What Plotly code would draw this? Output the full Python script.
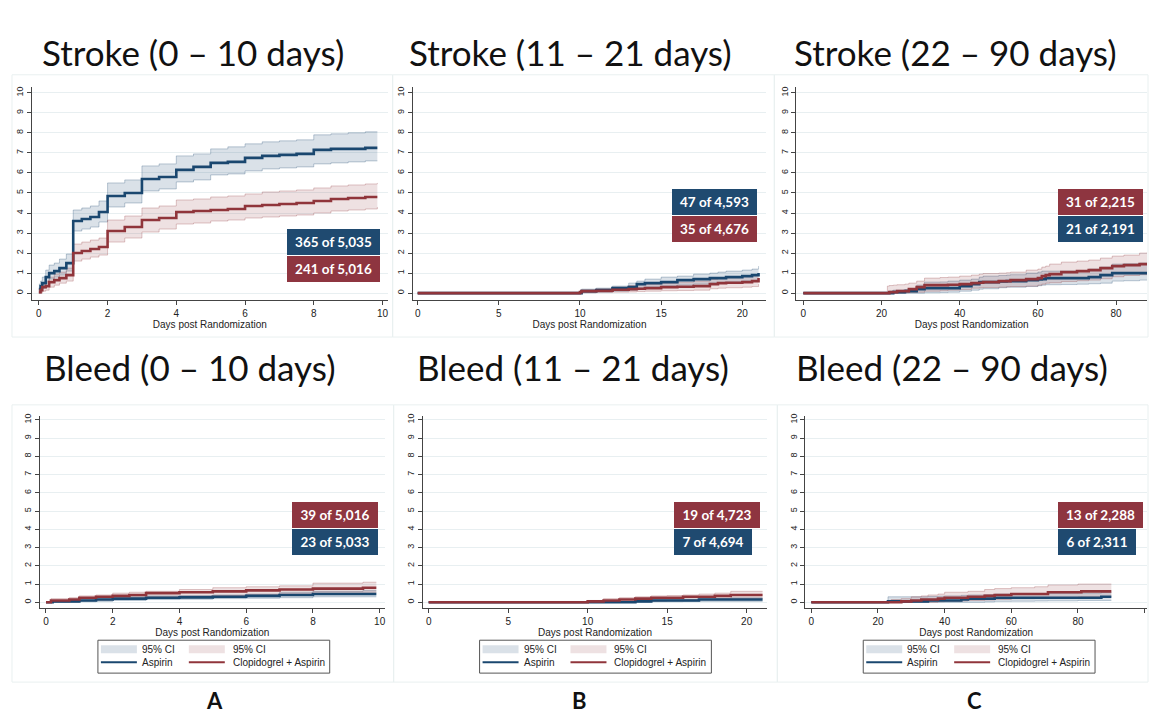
import plotly.graph_objects as go

W, H = 1149, 714

# ---------------- DATA (cumulative % with event, step functions) ----------------
# Stroke 0-10 days
sA_days = [0, 0.05, 0.1, 0.2, 0.3, 0.45, 0.6, 0.8, 1.0, 1.25, 1.5, 1.75, 2.0, 2.5, 3.0, 3.5, 4.0, 4.5, 5.0, 5.5, 6.0, 6.5, 7.0, 7.5, 8.0, 8.5, 9.0, 9.5, 9.85]
sA_asp = [0.2, 0.35, 0.5, 0.8, 1.0, 1.1, 1.25, 1.5, 3.6, 3.7, 3.8, 4.05, 4.85, 5.0, 5.7, 5.8, 6.15, 6.3, 6.5, 6.55, 6.75, 6.85, 6.9, 6.95, 7.15, 7.2, 7.2, 7.25, 7.25]
sA_asp_hi = [0.45, 0.6, 0.8, 1.15, 1.4, 1.5, 1.7, 1.95, 4.15, 4.25, 4.35, 4.6, 5.5, 5.65, 6.35, 6.45, 6.85, 6.95, 7.2, 7.3, 7.45, 7.55, 7.6, 7.65, 7.9, 7.95, 8.0, 8.05, 8.05]
sA_asp_lo = [0.0, 0.1, 0.25, 0.5, 0.7, 0.8, 0.9, 1.1, 3.1, 3.2, 3.3, 3.55, 4.3, 4.5, 5.1, 5.2, 5.55, 5.65, 5.9, 5.95, 6.1, 6.2, 6.25, 6.3, 6.45, 6.5, 6.55, 6.6, 6.6]
sA_clo = [0.05, 0.15, 0.3, 0.35, 0.55, 0.65, 0.75, 0.9, 2.0, 2.1, 2.2, 2.3, 3.1, 3.3, 3.65, 3.75, 4.05, 4.1, 4.15, 4.2, 4.35, 4.4, 4.45, 4.5, 4.6, 4.7, 4.75, 4.8, 4.8]
sA_clo_hi = [0.2, 0.35, 0.5, 0.6, 0.8, 0.95, 1.05, 1.25, 2.45, 2.55, 2.65, 2.75, 3.65, 3.85, 4.25, 4.35, 4.65, 4.7, 4.8, 4.85, 4.95, 5.05, 5.1, 5.15, 5.25, 5.35, 5.4, 5.45, 5.5]
sA_clo_lo = [0.0, 0.0, 0.1, 0.15, 0.3, 0.4, 0.5, 0.6, 1.6, 1.7, 1.8, 1.9, 2.55, 2.75, 3.05, 3.2, 3.45, 3.5, 3.6, 3.65, 3.75, 3.8, 3.85, 3.9, 4.0, 4.1, 4.15, 4.2, 4.3]

# Stroke 11-21 days
sB_days = [0, 10, 10.1, 11, 12, 13, 13.5, 14, 15, 16, 17, 18, 18.5, 19, 20, 20.6, 21]
sB_asp = [0, 0, 0.1, 0.15, 0.25, 0.3, 0.45, 0.5, 0.55, 0.65, 0.7, 0.75, 0.75, 0.8, 0.85, 0.9, 1.0]
sB_asp_hi = [0, 0, 0.2, 0.25, 0.35, 0.5, 0.6, 0.7, 0.8, 0.85, 0.95, 1.0, 1.05, 1.1, 1.15, 1.2, 1.35]
sB_asp_lo = [0, 0, 0.02, 0.05, 0.1, 0.15, 0.25, 0.3, 0.35, 0.4, 0.45, 0.5, 0.5, 0.55, 0.6, 0.62, 0.7]
sB_clo = [0, 0.05, 0.1, 0.12, 0.17, 0.2, 0.22, 0.25, 0.3, 0.32, 0.35, 0.45, 0.5, 0.52, 0.55, 0.6, 0.75]
sB_clo_hi = [0, 0.1, 0.15, 0.22, 0.3, 0.38, 0.42, 0.45, 0.5, 0.55, 0.6, 0.7, 0.75, 0.78, 0.85, 0.9, 1.0]
sB_clo_lo = [0, 0, 0.02, 0.03, 0.05, 0.06, 0.08, 0.1, 0.12, 0.13, 0.15, 0.22, 0.25, 0.27, 0.3, 0.33, 0.45]

# Stroke 22-90 days
sC_days = [0, 21.5, 22, 23, 24, 26, 27, 29, 31, 35, 37, 40, 43, 45, 46, 50, 52, 53, 57, 60, 61, 62, 63, 66, 70, 73, 76, 79, 82, 86, 88]
sC_asp = [0, 0, 0, 0.05, 0.05, 0.1, 0.1, 0.2, 0.25, 0.25, 0.25, 0.35, 0.45, 0.55, 0.55, 0.58, 0.6, 0.6, 0.65, 0.68, 0.7, 0.75, 0.75, 0.75, 0.75, 0.8, 0.9, 1.0, 1.0, 1.0, 1.0]
sC_asp_hi = [0, 0, 0.1, 0.15, 0.15, 0.18, 0.2, 0.4, 0.55, 0.56, 0.6, 0.65, 0.7, 0.8, 0.85, 0.88, 0.9, 0.92, 1.0, 1.05, 1.1, 1.1, 1.1, 1.1, 1.12, 1.2, 1.3, 1.45, 1.47, 1.5, 1.5]
sC_asp_lo = [0, 0, 0, 0, 0, 0, 0, 0, 0.02, 0.03, 0.05, 0.1, 0.15, 0.2, 0.22, 0.27, 0.3, 0.3, 0.33, 0.37, 0.4, 0.42, 0.42, 0.43, 0.45, 0.47, 0.5, 0.6, 0.62, 0.65, 0.65]
sC_clo = [0, 0, 0.05, 0.05, 0.1, 0.1, 0.2, 0.3, 0.4, 0.4, 0.42, 0.45, 0.5, 0.52, 0.55, 0.6, 0.6, 0.65, 0.7, 0.75, 0.85, 0.9, 0.95, 1.05, 1.1, 1.15, 1.25, 1.35, 1.4, 1.45, 1.45]
sC_clo_hi = [0, 0.35, 0.38, 0.4, 0.42, 0.45, 0.5, 0.6, 0.75, 0.78, 0.8, 0.85, 0.9, 0.95, 0.98, 1.0, 1.02, 1.05, 1.15, 1.2, 1.3, 1.35, 1.45, 1.55, 1.6, 1.65, 1.75, 1.85, 1.9, 2.0, 2.05]
sC_clo_lo = [0, 0, 0, 0, 0, 0.02, 0.03, 0.05, 0.1, 0.12, 0.15, 0.18, 0.25, 0.27, 0.28, 0.3, 0.32, 0.33, 0.35, 0.4, 0.45, 0.5, 0.52, 0.58, 0.62, 0.65, 0.72, 0.82, 0.88, 0.92, 0.95]

# Bleed 0-10 days
bA_days = [0, 0.15, 0.2, 0.7, 1.0, 1.5, 2.0, 2.5, 3.0, 4.0, 5.0, 6.0, 7.0, 8.0, 9.5, 9.9]
bA_asp = [0, 0, 0.05, 0.05, 0.1, 0.15, 0.2, 0.2, 0.25, 0.27, 0.3, 0.35, 0.4, 0.45, 0.45, 0.45]
bA_asp_hi = [0, 0, 0.1, 0.12, 0.2, 0.25, 0.3, 0.3, 0.35, 0.37, 0.4, 0.45, 0.55, 0.6, 0.65, 0.65]
bA_asp_lo = [0, 0, 0, 0, 0.03, 0.05, 0.1, 0.1, 0.15, 0.17, 0.2, 0.22, 0.25, 0.3, 0.3, 0.3]
bA_clo = [0, 0.1, 0.1, 0.15, 0.25, 0.3, 0.35, 0.4, 0.5, 0.55, 0.6, 0.65, 0.7, 0.75, 0.8, 0.8]
bA_clo_hi = [0, 0.2, 0.2, 0.25, 0.35, 0.4, 0.5, 0.55, 0.6, 0.7, 0.8, 0.85, 0.9, 1.05, 1.1, 1.1]
bA_clo_lo = [0, 0, 0, 0.02, 0.1, 0.12, 0.2, 0.22, 0.3, 0.32, 0.35, 0.4, 0.45, 0.55, 0.55, 0.55]

# Bleed 11-21 days
bB_days = [0, 10, 11, 12, 13, 14, 15, 16, 17, 18, 19, 21]
bB_asp = [0, 0, 0, 0, 0.05, 0.1, 0.1, 0.1, 0.15, 0.15, 0.15, 0.15]
bB_asp_hi = [0, 0.05, 0.05, 0.05, 0.1, 0.15, 0.15, 0.17, 0.2, 0.22, 0.25, 0.25]
bB_asp_lo = [0, 0, 0, 0, 0, 0.03, 0.03, 0.04, 0.05, 0.05, 0.05, 0.05]
bB_clo = [0, 0.05, 0.1, 0.15, 0.2, 0.25, 0.25, 0.3, 0.3, 0.35, 0.4, 0.4]
bB_clo_hi = [0, 0.1, 0.2, 0.25, 0.3, 0.35, 0.37, 0.4, 0.45, 0.5, 0.6, 0.6]
bB_clo_lo = [0, 0, 0, 0, 0.05, 0.07, 0.1, 0.12, 0.15, 0.17, 0.2, 0.2]

# Bleed 22-90 days
bC_days = [0, 23, 24, 27, 30, 33, 35, 38, 40, 45, 47, 52, 55, 60, 67, 71, 80, 81, 86, 87, 90]
bC_asp = [0, 0.05, 0.05, 0.05, 0.05, 0.05, 0.1, 0.1, 0.1, 0.15, 0.2, 0.2, 0.25, 0.25, 0.25, 0.25, 0.25, 0.25, 0.25, 0.3, 0.3]
bC_asp_hi = [0, 0.3, 0.3, 0.3, 0.3, 0.3, 0.32, 0.33, 0.35, 0.38, 0.4, 0.42, 0.45, 0.47, 0.48, 0.48, 0.5, 0.5, 0.5, 0.55, 0.55]
bC_asp_lo = [0, 0, 0, 0, 0, 0, 0, 0, 0, 0, 0, 0.02, 0.05, 0.06, 0.07, 0.08, 0.1, 0.1, 0.1, 0.1, 0.1]
bC_clo = [0, 0, 0, 0.05, 0.1, 0.15, 0.15, 0.2, 0.25, 0.25, 0.3, 0.35, 0.4, 0.45, 0.45, 0.55, 0.55, 0.6, 0.6, 0.6, 0.6]
bC_clo_hi = [0, 0, 0.15, 0.2, 0.3, 0.35, 0.4, 0.45, 0.55, 0.55, 0.6, 0.7, 0.75, 0.8, 0.85, 0.95, 1.0, 1.0, 1.0, 1.0, 1.0]
bC_clo_lo = [0, 0, 0, 0, 0, 0, 0, 0.03, 0.05, 0.07, 0.1, 0.12, 0.15, 0.2, 0.22, 0.25, 0.28, 0.3, 0.3, 0.3, 0.3]

panel_titles = ["Stroke (0 – 10 days)", "Stroke (11 – 21 days)", "Stroke (22 – 90 days)",
                "Bleed (0 – 10 days)", "Bleed (11 – 21 days)", "Bleed (22 – 90 days)"]
count_asp = ["365 of 5,035", "47 of 4,593", "21 of 2,191", "23 of 5,033", "7 of 4,694", "6 of 2,311"]
count_clo = ["241 of 5,016", "35 of 4,676", "31 of 2,215", "39 of 5,016", "19 of 4,723", "13 of 2,288"]
column_labels = ["A", "B", "C"]
x_dticks = [2, 5, 20, 2, 5, 20]
y_ticks = list(range(0, 11))
xaxis_title = "Days post Randomization"
legend_labels = ["95% CI", "95% CI", "Aspirin", "Clopidogrel + Aspirin"]

# ---------------- STYLE ----------------
NAVY = "#1a476f"
MAROON = "#90353b"
NAVY_FILL = "rgba(26,71,111,0.16)"
MAROON_FILL = "rgba(144,53,59,0.15)"
NAVY_EDGE = "rgba(26,71,111,0.35)"
MAROON_EDGE = "rgba(144,53,59,0.35)"
BOX_BLUE = "#1f4a70"
BOX_RED = "#8e3540"
TITLE_FONT = "Lato"
AX_FONT = "Liberation Sans"

def fx(px):
    return px / W

def fy(py):
    return 1 - py / H

# panel geometry in pixels
panels = [
    dict(xd=(32, 388), xr=(-0.2, 10.15), yd=(85, 299), yr=(-0.35, 10.3)),
    dict(xd=(413, 767), xr=(-0.31, 21.48), yd=(85, 299), yr=(-0.35, 10.3)),
    dict(xd=(797, 1148), xr=(-1.79, 87.9), yd=(85, 299), yr=(-0.35, 10.3)),
    dict(xd=(40, 385), xr=(-0.18, 10.15), yd=(415, 608), yr=(-0.33, 10.22)),
    dict(xd=(423, 768), xr=(-0.38, 21.3), yd=(415, 608), yr=(-0.33, 10.22)),
    dict(xd=(806, 1148), xr=(-1.8, 100.7), yd=(415, 608), yr=(-0.33, 10.22)),
]
title_pos = [(193, 50), (571, 50), (956, 50), (190, 366), (573, 366), (953, 366)]
# boxes: (left, top of first box, width_first, width_second, first_is_asp)
box_pos = [(287, 228, 93, 93, True), (673, 188, 85, 85, True), (1059, 188, 85, 85, False),
           (292, 501, 86, 86, False), (675, 501, 86, 78, False), (1059, 501, 85, 78, False)]
legend_left = [None, None, None, 97, 479, 863]
panel_frames = [(12, 73, 393, 336), (393, 73, 775, 336), (775, 73, 1149, 336),
                (12, 404, 394, 682), (394, 404, 778, 682), (778, 404, 1149, 682)]

data = [
    (sA_days, sA_asp, sA_asp_lo, sA_asp_hi, sA_clo, sA_clo_lo, sA_clo_hi),
    (sB_days, sB_asp, sB_asp_lo, sB_asp_hi, sB_clo, sB_clo_lo, sB_clo_hi),
    (sC_days, sC_asp, sC_asp_lo, sC_asp_hi, sC_clo, sC_clo_lo, sC_clo_hi),
    (bA_days, bA_asp, bA_asp_lo, bA_asp_hi, bA_clo, bA_clo_lo, bA_clo_hi),
    (bB_days, bB_asp, bB_asp_lo, bB_asp_hi, bB_clo, bB_clo_lo, bB_clo_hi),
    (bC_days, bC_asp, bC_asp_lo, bC_asp_hi, bC_clo, bC_clo_lo, bC_clo_hi),
]

fig = go.Figure()
layout = dict(width=W, height=H, margin=dict(l=0, r=0, t=0, b=0),
              paper_bgcolor="white", plot_bgcolor="white", showlegend=False)
shapes = []
annotations = []

for i, (p, d) in enumerate(zip(panels, data)):
    n = "" if i == 0 else str(i + 1)
    xa, ya = "x" + n, "y" + n
    days, asp, asp_lo, asp_hi, clo, clo_lo, clo_hi = d
    for lo, hi, fill, edge in [(asp_lo, asp_hi, NAVY_FILL, NAVY_EDGE), (clo_lo, clo_hi, MAROON_FILL, MAROON_EDGE)]:
        fig.add_trace(go.Scatter(x=days, y=lo, mode="lines", line=dict(color=edge, width=0.8, shape="hv"),
                                 xaxis=xa, yaxis=ya, hoverinfo="skip"))
        fig.add_trace(go.Scatter(x=days, y=hi, mode="lines", line=dict(color=edge, width=0.8, shape="hv"),
                                 fill="tonexty", fillcolor=fill, xaxis=xa, yaxis=ya, hoverinfo="skip"))
    fig.add_trace(go.Scatter(x=days, y=asp, mode="lines", name="Aspirin",
                             line=dict(color=NAVY, width=2.6, shape="hv"), xaxis=xa, yaxis=ya))
    fig.add_trace(go.Scatter(x=days, y=clo, mode="lines", name="Clopidogrel + Aspirin",
                             line=dict(color=MAROON, width=2.6, shape="hv"), xaxis=xa, yaxis=ya))

    layout["xaxis" + n] = dict(
        domain=[fx(p["xd"][0]), fx(p["xd"][1])], range=list(p["xr"]), anchor=ya,
        dtick=x_dticks[i], tick0=0, showgrid=False, zeroline=False,
        showline=True, linecolor="#444", linewidth=1, ticks="outside", ticklen=4, tickcolor="#444",
        tickfont=dict(family=AX_FONT, size=10, color="#222"),
        title=dict(text=xaxis_title, font=dict(family=AX_FONT, size=10, color="#222"), standoff=1),
    )
    layout["yaxis" + n] = dict(
        domain=[fy(p["yd"][1]), fy(p["yd"][0])], range=list(p["yr"]), anchor=xa,
        tickvals=y_ticks, showgrid=True, gridcolor="#e8eff1", gridwidth=1, zeroline=False,
        showline=True, linecolor="#444", linewidth=1, ticks="outside", ticklen=4, tickcolor="#444",
        tickangle=-90, tickfont=dict(family=AX_FONT, size=9, color="#222"),
    )

    # faint panel frame
    l, t, r, b = panel_frames[i]
    shapes.append(dict(type="rect", xref="paper", yref="paper", x0=fx(l), x1=fx(r), y0=fy(b), y1=fy(t),
                       line=dict(color="#e9f0f0", width=1), fillcolor="rgba(0,0,0,0)", layer="below"))

    # panel title
    tx, ty = title_pos[i]
    annotations.append(dict(text=panel_titles[i], xref="paper", yref="paper", x=fx(tx), y=fy(ty),
                            xanchor="center", yanchor="middle", showarrow=False,
                            font=dict(family=TITLE_FONT, size=35, color="#111")))

    # count boxes
    bl, bt, w1, w2, asp_first = box_pos[i]
    first = (count_asp[i], BOX_BLUE) if asp_first else (count_clo[i], BOX_RED)
    second = (count_clo[i], BOX_RED) if asp_first else (count_asp[i], BOX_BLUE)
    for k, ((txt, col), wbox) in enumerate([(first, w1), (second, w2)]):
        top = bt + k * 27
        annotations.append(dict(text=txt, xref="paper", yref="paper", x=fx(bl), y=fy(top),
                                xanchor="left", yanchor="top", showarrow=False, width=wbox, height=26,
                                bgcolor=col, borderpad=0, borderwidth=0, align="center", valign="middle",
                                font=dict(family=TITLE_FONT, size=13.5, color="white", weight="bold")))

    # manual legend for bottom row
    L = legend_left[i]
    if L is not None:
        T = 640
        shapes.append(dict(type="rect", xref="paper", yref="paper", x0=fx(L + 1), x1=fx(L + 233),
                           y0=fy(T + 33), y1=fy(T), line=dict(color="#555", width=1), fillcolor="white"))
        shapes.append(dict(type="rect", xref="paper", yref="paper", x0=fx(L + 4), x1=fx(L + 40),
                           y0=fy(T + 13), y1=fy(T + 5), line=dict(width=0), fillcolor=NAVY_FILL))
        shapes.append(dict(type="rect", xref="paper", yref="paper", x0=fx(L + 92), x1=fx(L + 128),
                           y0=fy(T + 13), y1=fy(T + 5), line=dict(width=0), fillcolor=MAROON_FILL))
        shapes.append(dict(type="line", xref="paper", yref="paper", x0=fx(L + 4), x1=fx(L + 40),
                           y0=fy(T + 22), y1=fy(T + 22), line=dict(color=NAVY, width=2)))
        shapes.append(dict(type="line", xref="paper", yref="paper", x0=fx(L + 92), x1=fx(L + 128),
                           y0=fy(T + 22), y1=fy(T + 22), line=dict(color=MAROON, width=2)))
        for (lx, ly, txt) in [(L + 43, T + 9, legend_labels[0]), (L + 134, T + 9, legend_labels[1]),
                              (L + 43, T + 22, legend_labels[2]), (L + 134, T + 22, legend_labels[3])]:
            annotations.append(dict(text=txt, xref="paper", yref="paper", x=fx(lx), y=fy(ly),
                                    xanchor="left", yanchor="middle", showarrow=False,
                                    font=dict(family=AX_FONT, size=10, color="#222")))

# column labels
for lbl, cx in zip(column_labels, [215, 580, 975]):
    annotations.append(dict(text=lbl, xref="paper", yref="paper", x=fx(cx), y=fy(700),
                            xanchor="center", yanchor="middle", showarrow=False,
                            font=dict(family=TITLE_FONT, size=22, color="#111", weight="bold")))

layout["shapes"] = shapes
layout["annotations"] = annotations
fig.update_layout(**layout)
fig.write_html("out.html", config={"displayModeBar": False},
               post_script="document.body.style.margin='0px';document.body.style.padding='0px';"
                           "document.documentElement.style.overflow='hidden';")
